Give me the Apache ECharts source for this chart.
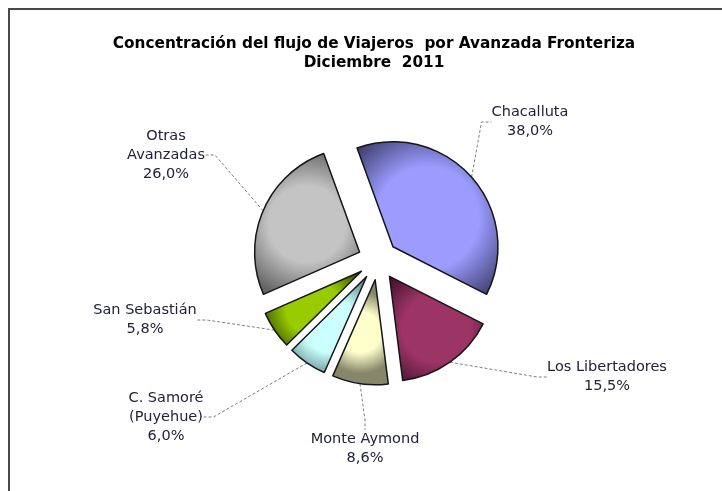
<!DOCTYPE html>
<html>
<head>
<meta charset="utf-8">
<script src="https://cdn.jsdelivr.net/npm/echarts@6/dist/echarts.min.js"></script>
<style>
  html, body { margin: 0; padding: 0; background: #fff; }
  #chart { width: 722px; height: 491px; }
</style>
</head>
<body>
<div id="chart"></div>
<script>
// datos del grafico
var categorias = ['Chacalluta', 'Los Libertadores', 'Monte Aymond', 'C. Samoré\n(Puyehue)', 'San Sebastián', 'Otras\nAvanzadas']
var porcentajes = [38.0, 15.5, 8.6, 6.0, 5.8, 26.0]

// colores: centro claro y borde oscuro
var colorCentro = ['#9c9cff', '#9c3466', '#ffffcc', '#ccffff', '#99cc00', '#c4c4c4']
var colorBorde = ['#34345e', '#40102a', '#86866a', '#5a8686', '#3a5200', '#646464']

// posicion de las etiquetas (centro del bloque de texto)
var posEtiquetas = [[530, 122], [607, 377], [365, 449], [166, 417], [145, 320], [166, 155]]

var centro = [378, 260]
var radio = 105
var separacion = 20
var anguloInicio = 110

var chart = echarts.init(document.getElementById('chart'))

var total = porcentajes.reduce(function (a, b) { return a + b }, 0)

function formatoPct (v) {
  return v.toFixed(1).replace('.', ',') + '%'
}

// una serie por porcion, para poder separar cada una y dejar libres las etiquetas
var acum = 0
var series = porcentajes.map(function (v, i) {
  var medio = anguloInicio - (acum + v / 2) / total * 360
  acum += v
  var rad = medio * Math.PI / 180
  var cx = centro[0] + separacion * Math.cos(rad)
  var cy = centro[1] - separacion * Math.sin(rad)

  var datos = porcentajes.map(function (w, j) {
    if (j !== i) {
      return {
        name: categorias[j],
        value: w,
        itemStyle: { color: 'rgba(0,0,0,0)', borderWidth: 0 },
        label: { show: false },
        labelLine: { show: false }
      }
    }
    return {
      name: categorias[j],
      value: w,
      itemStyle: {
        color: {
          type: 'radial', x: 0.5, y: 0.5, r: 0.72,
          colorStops: [
            { offset: 0, color: colorCentro[j] },
            { offset: 0.5, color: colorCentro[j] },
            { offset: 1, color: colorBorde[j] }
          ]
        },
        borderColor: '#161616',
        borderWidth: 1.5
      }
    }
  })

  return {
    type: 'pie',
    silent: true,
    center: [cx, cy],
    radius: radio,
    startAngle: anguloInicio,
    clockwise: true,
    avoidLabelOverlap: false,
    data: datos,
    label: {
      show: true,
      position: 'outside',
      fontFamily: 'DejaVu Sans',
      fontSize: 14.5,
      lineHeight: 19,
      color: '#22223a',
      align: 'center',
      formatter: function (p) {
        return p.name + '\n' + formatoPct(p.value)
      }
    },
    labelLine: {
      show: true,
      length: 15,
      length2: 10,
      lineStyle: { color: '#808080', width: 1, type: [3, 2] }
    },
    labelLayout: function (p) {
      var pos = posEtiquetas[p.dataIndex]
      return {
        x: pos[0],
        y: pos[1],
        align: 'center',
        verticalAlign: 'middle'
      }
    },
    emphasis: { disabled: true }
  }
})

var option = {
  animation: false,
  title: {
    text: 'Concentración del flujo de Viajeros  por Avanzada Fronteriza\nDiciembre  2011',
    left: 369,
    textAlign: 'center',
    top: 30,
    textStyle: {
      fontFamily: 'DejaVu Sans',
      fontSize: 15.3,
      fontWeight: 'bold',
      color: '#000',
      lineHeight: 19
    }
  },
  graphic: [{
    type: 'rect',
    shape: { x: 9, y: 9, width: 800, height: 600 },
    style: { fill: 'none', stroke: '#4a4a4a', lineWidth: 2 },
    silent: true
  }],
  series: series
}

chart.setOption(option)
</script>
</body>
</html>
